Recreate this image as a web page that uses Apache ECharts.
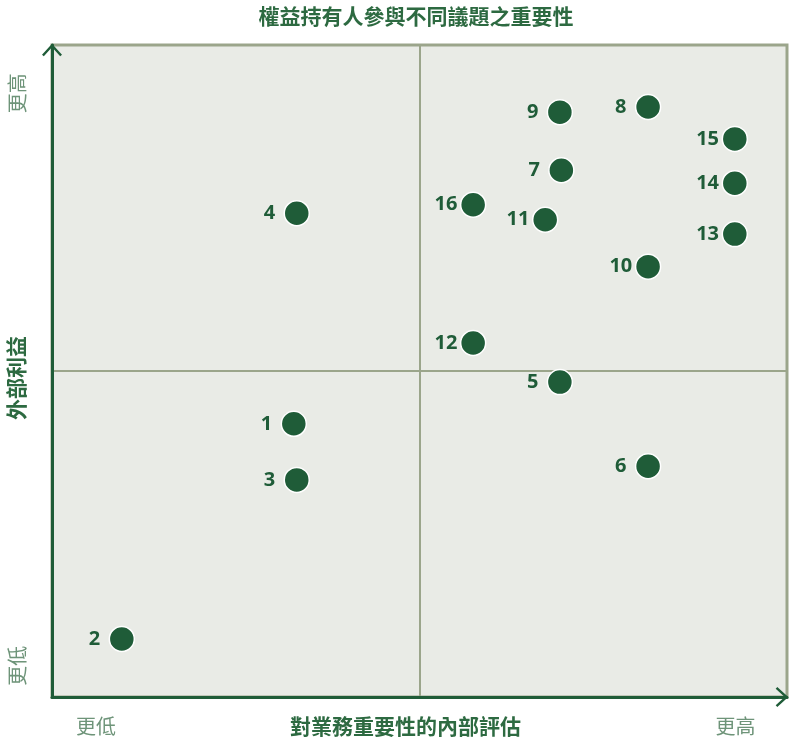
<!DOCTYPE html>
<html>
<head>
<meta charset="utf-8">
<script src="https://cdn.jsdelivr.net/npm/echarts@6/dist/echarts.min.js"></script>
<style>
html,body{margin:0;padding:0;background:#fff;}
#c{width:789px;height:738px;}
</style>
</head>
<body>
<div id="c"></div>
<script>
// Data
const issueIds = ['1','2','3','4','5','6','7','8','9','10','11','12','13','14','15','16'];
const internalImportance = [32.9, 9.5, 33.3, 33.3, 69.1, 81.1, 69.3, 81.1, 69.1, 81.1, 67.1, 57.3, 92.9, 92.9, 92.9, 57.3];
const externalInterest   = [41.9, 8.9, 33.3, 74.2, 48.3, 35.4, 80.8, 90.5, 89.7, 66.0, 73.2, 54.3, 71.0, 78.8, 85.6, 75.5];
const xTickValues = [6, 93];
const xTickLabels = ['更低', '更高'];
const yTickValues = [4.8, 92.6];
const yTickLabels = ['更低', '更高'];
const titleText = '權益持有人參與不同議題之重要性';
const xAxisName = '對業務重要性的內部評估';
const yAxisName = '外部利益';

const dark = '#1f5c38';
const border = '#9ba58b';
const soft = '#6e9479';
const cjk = '"Noto Sans CJK TC","Noto Sans CJK SC",sans-serif';
const chevron = 'path://M0,11 L10,0 L20,11 L18.2,12.6 L10,3.6 L1.8,12.6 Z';

const points = issueIds.map((id, i) => ({ value: [internalImportance[i], externalInterest[i]], name: id }));

const chart = echarts.init(document.getElementById('c'));
chart.setOption({
  animation: false,
  title: {
    text: titleText,
    left: 411, top: 1, textAlign: 'center',
    textStyle: { fontFamily: cjk, fontSize: 21, fontWeight: 'bold', color: '#2d6a41' }
  },
  grid: {
    left: 52, right: 2, top: 45, bottom: 41,
    containLabel: false, outerBoundsMode: 'none',
    show: true, backgroundColor: '#e9ebe6', borderColor: border, borderWidth: 3
  },
  xAxis: {
    type: 'value', min: 0, max: 100, interval: 50,
    name: xAxisName, nameLocation: 'middle', nameGap: 19, nameMoveOverlap: false,
    nameTextStyle: { fontFamily: cjk, fontSize: 21, fontWeight: 'bold', color: '#2d6a41', padding: [0, 28, 0, 0], verticalAlign: 'top' },
    axisLine: { show: true, lineStyle: { color: dark, width: 3 }, symbol: ['none', chevron], symbolSize: [20, 12.6], symbolOffset: [0, -5] },
    axisTick: { show: false },
    axisLabel: {
      customValues: xTickValues,
      formatter: (v) => { const k = xTickValues.indexOf(v); return k >= 0 ? xTickLabels[k] : ''; },
      fontFamily: cjk, fontSize: 20, color: soft, margin: 19
    },
    splitLine: { show: true, lineStyle: { color: border, width: 2 } }
  },
  yAxis: {
    type: 'value', min: 0, max: 100, interval: 50,
    name: yAxisName, nameLocation: 'middle', nameGap: 25, nameRotate: 90, nameMoveOverlap: false,
    nameTextStyle: { fontFamily: cjk, fontSize: 21, fontWeight: 'bold', color: '#2d6a41', padding: [0, 14, 0, 0] },
    axisLine: { show: true, lineStyle: { color: dark, width: 3 }, symbol: ['none', chevron], symbolSize: [20, 12.6], symbolOffset: [0, -5] },
    axisTick: { show: false },
    axisLabel: {
      customValues: yTickValues,
      formatter: (v) => { const k = yTickValues.indexOf(v); return k >= 0 ? yTickLabels[k] : ''; },
      rotate: 90, fontFamily: cjk, fontSize: 20, color: soft, margin: 25
    },
    splitLine: { show: true, lineStyle: { color: border, width: 2 } }
  },
  series: [{
    type: 'scatter',
    data: points,
    symbolSize: 25,
    itemStyle: { color: dark, borderColor: '#ffffff', borderWidth: 1.5, opacity: 1 },
    label: {
      show: true, position: 'left', distance: 14, align: 'center',
      formatter: (p) => p.name,
      fontFamily: '"Open Sans",sans-serif', fontWeight: 'bold', fontSize: 20, color: dark
    },
    emphasis: { disabled: true }
  }]
});
</script>
</body>
</html>
